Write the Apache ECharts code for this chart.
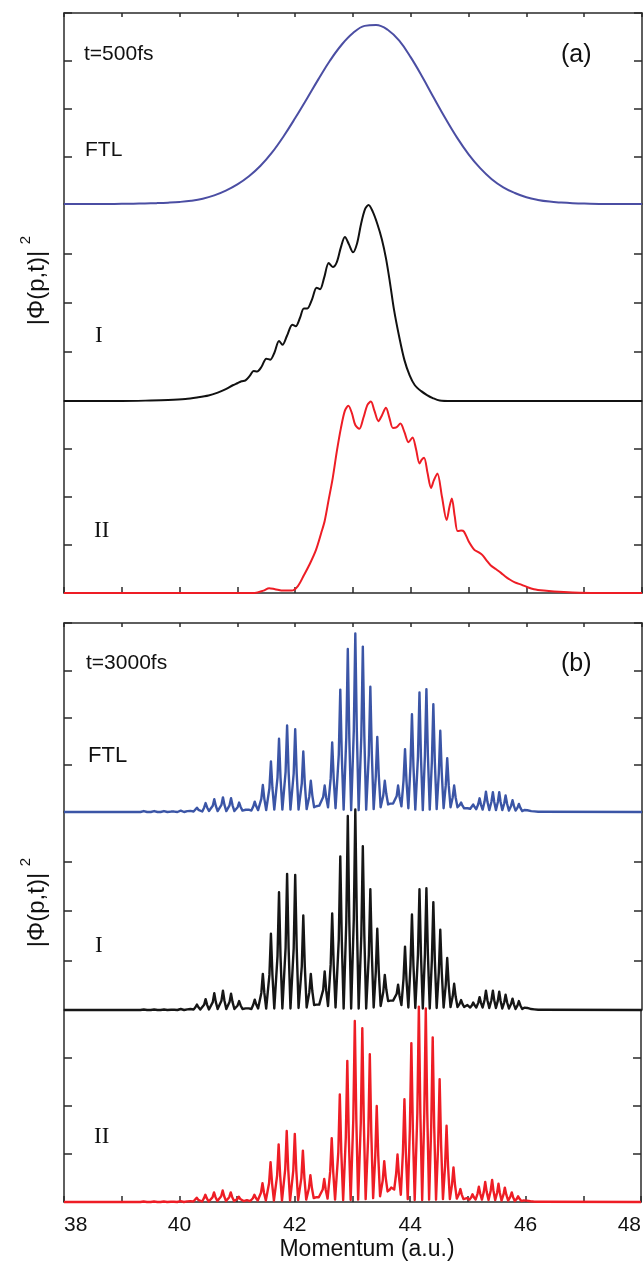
<!DOCTYPE html>
<html>
<head>
<meta charset="utf-8">
<script src="https://cdn.jsdelivr.net/npm/echarts@6/dist/echarts.min.js"></script>
<style>
html,body{margin:0;padding:0;background:#fff;}
#chart{width:644px;height:1264px;}
</style>
</head>
<body>
<div id="chart"></div>
<script>
// ---------- DATA ----------
const xTickLabels = [38, 40, 42, 44, 46, 48];

// Panel (a), t=500fs : [momentum, |Phi|^2]
const panelA_FTL = [[38,0],[38.6,0],[39,0.004],[39.2,0.007],[39.4,0.011],[39.6,0.018],[39.8,0.028],[40,0.043],[40.2,0.068],[40.4,0.11],[40.6,0.18],[40.8,0.28],[41,0.41],[41.2,0.58],[41.4,0.8],[41.6,1.08],[41.8,1.42],[42,1.8],[42.2,2.2],[42.4,2.61],[42.6,3.0],[42.8,3.33],[43,3.58],[43.2,3.73],[43.4,3.75],[43.6,3.65],[43.8,3.42],[44,3.07],[44.2,2.66],[44.4,2.22],[44.6,1.79],[44.8,1.39],[45,1.04],[45.2,0.75],[45.4,0.52],[45.6,0.35],[45.8,0.23],[46,0.14],[46.2,0.085],[46.4,0.05],[46.6,0.03],[46.8,0.016],[47,0.008],[47.4,0],[48,0]];

const panelA_I = [[38,0],[39,0],[39.5,0.01],[39.8,0.02],[40.1,0.04],[40.3,0.07],[40.5,0.11],[40.66,0.17],[40.8,0.24],[40.92,0.32],[41,0.36],[41.07,0.4],[41.14,0.42],[41.22,0.52],[41.28,0.61],[41.34,0.6],[41.42,0.7],[41.5,0.86],[41.57,0.84],[41.64,0.98],[41.72,1.22],[41.78,1.14],[41.86,1.33],[41.95,1.55],[42.01,1.52],[42.08,1.68],[42.15,1.88],[42.21,1.88],[42.29,2.06],[42.37,2.3],[42.43,2.27],[42.5,2.5],[42.58,2.8],[42.65,2.72],[42.72,2.82],[42.79,3.12],[42.86,3.33],[42.93,3.18],[43,3.02],[43.07,3.2],[43.14,3.6],[43.21,3.9],[43.27,3.98],[43.34,3.85],[43.42,3.6],[43.5,3.28],[43.57,2.9],[43.64,2.4],[43.71,1.85],[43.8,1.3],[43.89,0.83],[43.98,0.52],[44.07,0.32],[44.18,0.2],[44.28,0.12],[44.38,0.06],[44.5,0.01],[44.7,0],[48,0]];

const panelA_II = [[38,0],[41.3,0],[41.45,0.05],[41.55,0.1],[41.65,0.08],[41.8,0.05],[41.94,0.05],[42.05,0.15],[42.15,0.37],[42.25,0.6],[42.36,0.9],[42.45,1.25],[42.51,1.5],[42.58,1.95],[42.65,2.4],[42.72,2.95],[42.79,3.43],[42.86,3.8],[42.92,3.9],[42.98,3.75],[43.04,3.5],[43.11,3.42],[43.18,3.65],[43.25,3.92],[43.31,3.99],[43.37,3.8],[43.44,3.58],[43.5,3.7],[43.57,3.86],[43.63,3.65],[43.69,3.44],[43.75,3.45],[43.82,3.53],[43.89,3.35],[43.96,3.14],[44.03,3.24],[44.09,3.0],[44.15,2.7],[44.19,2.78],[44.23,2.82],[44.29,2.5],[44.35,2.19],[44.4,2.35],[44.46,2.49],[44.54,2.0],[44.62,1.52],[44.67,1.8],[44.71,1.97],[44.76,1.6],[44.81,1.29],[44.87,1.3],[44.92,1.28],[45,1.08],[45.1,0.9],[45.17,0.85],[45.24,0.79],[45.31,0.68],[45.38,0.58],[45.47,0.5],[45.56,0.42],[45.63,0.35],[45.7,0.29],[45.8,0.22],[45.92,0.17],[46.02,0.12],[46.13,0.08],[46.3,0.05],[46.48,0.03],[46.8,0.01],[47.2,0],[48,0]];

// Panel (b), t=3000fs : comb of narrow peaks
const combPositions = [39.38,39.56,39.73,39.88,40.02,40.16,40.30,40.45,40.60,40.75,40.89,41.03,41.17,41.30,41.44,41.58,41.72,41.86,42.00,42.14,42.27,42.39,42.51,42.64,42.78,42.91,43.04,43.17,43.30,43.42,43.55,43.67,43.78,43.90,44.02,44.15,44.27,44.39,44.51,44.63,44.75,44.87,44.98,45.08,45.19,45.30,45.42,45.53,45.64,45.76,45.87,45.99,46.11,46.23];

const peaksB_FTL = [0.02,0.02,0.02,0.02,0.03,0.04,0.09,0.19,0.27,0.31,0.29,0.20,0.07,0.22,0.57,1.07,1.55,1.83,1.75,1.28,0.66,0.15,0.56,1.47,2.59,3.45,3.78,3.50,2.65,1.59,0.66,0.20,0.56,1.33,2.07,2.53,2.60,2.28,1.72,1.14,0.56,0.20,0.08,0.16,0.29,0.43,0.42,0.42,0.35,0.25,0.17,0.07,0.03,0.01];
const valleysB_FTL = [0,0,0,0,0,0.01,0.01,0.02,0.02,0.02,0.02,0.03,0.03,0.04,0.04,0.05,0.05,0.05,0.05,0.06,0.10,0.12,0.10,0.08,0.05,0.04,0.04,0.05,0.06,0.10,0.16,0.16,0.12,0.08,0.05,0.04,0.05,0.06,0.08,0.10,0.10,0.08,0.07,0.06,0.05,0.04,0.04,0.04,0.03,0.03,0.02,0.01,0];

const peaksB_I = [0.01,0.01,0.01,0.01,0.02,0.03,0.11,0.22,0.34,0.39,0.33,0.18,0.05,0.21,0.73,1.54,2.38,2.75,2.73,1.91,0.73,0.12,0.78,1.95,3.10,3.92,4.05,3.31,2.44,1.64,0.71,0.20,0.51,1.28,1.93,2.44,2.46,2.18,1.62,1.05,0.53,0.20,0.10,0.15,0.26,0.39,0.39,0.37,0.31,0.23,0.18,0.08,0.03,0.01];
const valleysB_I = [0,0,0,0,0,0.01,0.01,0.01,0.02,0.02,0.02,0.02,0.02,0.03,0.03,0.03,0.03,0.03,0.04,0.05,0.10,0.10,0.08,0.05,0.03,0.03,0.03,0.03,0.05,0.08,0.18,0.18,0.10,0.05,0.04,0.03,0.03,0.04,0.05,0.06,0.06,0.06,0.05,0.05,0.05,0.04,0.04,0.03,0.03,0.02,0.02,0.01,0];

const peaksB_II = [0.01,0.01,0.01,0.01,0.02,0.03,0.09,0.15,0.20,0.24,0.20,0.11,0.04,0.15,0.39,0.83,1.20,1.48,1.42,1.07,0.56,0.12,0.48,1.33,2.24,2.94,3.77,3.62,3.08,2.00,0.85,0.30,0.99,2.14,3.31,4.07,4.03,3.43,2.56,1.59,0.72,0.27,0.08,0.16,0.32,0.42,0.46,0.38,0.30,0.20,0.12,0.05,0.02,0.01];
const valleysB_II = [0,0,0,0,0,0.01,0.01,0.01,0.02,0.02,0.02,0.02,0.02,0.03,0.03,0.03,0.03,0.03,0.04,0.05,0.08,0.08,0.07,0.05,0.04,0.04,0.05,0.06,0.08,0.12,0.22,0.26,0.15,0.06,0.04,0.04,0.05,0.05,0.06,0.06,0.07,0.06,0.05,0.05,0.05,0.04,0.04,0.03,0.03,0.02,0.02,0.01,0];

// ---------- build comb polylines from read peaks/valleys ----------
function buildComb(peaks, valleys) {
  const pts = [[38, 0]];
  const n = combPositions.length;
  for (let k = 0; k < n; k++) {
    const p = combPositions[k];
    const gl = k === 0 ? 0.12 : p - combPositions[k - 1];
    const gr = k === n - 1 ? 0.12 : combPositions[k + 1] - p;
    const hl = Math.min(0.058, gl * 0.48), hr = Math.min(0.058, gr * 0.48);
    const left = k === 0 ? 0 : valleys[k - 1];
    const right = k === n - 1 ? 0 : valleys[k];
    const h = peaks[k];
    pts.push([p - hl, left]);
    pts.push([p - hl * 0.45, left + (h - left) * 0.45]);
    pts.push([p, h]);
    pts.push([p + hr * 0.45, right + (h - right) * 0.45]);
    pts.push([p + hr, right]);
  }
  pts.push([48, 0]);
  return pts;
}

// ---------- layout ----------
const L = 64, W = 578;
const grids = [
  {left: L, width: W, top: 13, height: 191},
  {left: L, width: W, top: 204, height: 197},
  {left: L, width: W, top: 401, height: 192},
  {left: L, width: W, top: 623, height: 189},
  {left: L, width: W, top: 812, height: 198},
  {left: L, width: W, top: 1010, height: 192}
];
const frame = {color: '#2a2a2a', width: 1.5};
const FONT = '"Liberation Sans", Arial, Helvetica, sans-serif';
const SERIF = '"Liberation Serif", "Times New Roman", serif';

const xAxes = [];
const yAxes = [];
grids.forEach((g, i) => {
  const isBottom = (i === 2 || i === 5);
  xAxes.push({
    type: 'value', gridIndex: i, min: 38, max: 48, interval: 1, position: 'bottom',
    axisLine: {show: isBottom, onZero: false, lineStyle: frame},
    axisTick: {show: isBottom, inside: true, length: 6, lineStyle: frame},
    axisLabel: {
      show: i === 5, fontSize: 21, color: '#111', fontFamily: FONT, margin: 13,
      alignMinLabel: 'left', alignMaxLabel: 'right',
      formatter: v => (xTickLabels.indexOf(v) >= 0 ? String(v) : '')
    },
    splitLine: {show: false}
  });
  yAxes.push({
    type: 'value', gridIndex: i, min: 0, max: 4, interval: 1, position: 'left',
    axisLine: {show: true, lineStyle: frame},
    axisTick: {show: true, inside: true, length: 8, lineStyle: frame},
    axisLabel: {show: false}, splitLine: {show: false}
  });
  yAxes.push({
    type: 'value', gridIndex: i, min: 0, max: 4, interval: 1, position: 'right',
    axisLine: {show: true, lineStyle: frame},
    axisTick: {show: true, inside: true, length: 8, lineStyle: frame},
    axisLabel: {show: false}, splitLine: {show: false}
  });
});
[0, 3].forEach(i => {
  xAxes.push({
    type: 'value', gridIndex: i, min: 38, max: 48, interval: 1, position: 'top',
    axisLine: {show: true, onZero: false, lineStyle: frame},
    axisTick: {show: true, inside: true, length: 4, lineStyle: frame},
    axisLabel: {show: false}, splitLine: {show: false}
  });
});

function lineSeries(idx, data, color, width, smooth) {
  return {
    type: 'line', xAxisIndex: idx, yAxisIndex: idx * 2, data: data,
    showSymbol: false, symbol: 'none', smooth: smooth,
    clip: false, lineStyle: {color: color, width: width, join: 'round'}, animation: false, z: 3
  };
}

const series = [
  lineSeries(0, panelA_FTL, '#4b4ea3', 2, 0.4),
  lineSeries(1, panelA_I, '#111111', 2, 0.3),
  lineSeries(2, panelA_II, '#ee1d25', 2, 0.3),
  lineSeries(3, buildComb(peaksB_FTL, valleysB_FTL), '#3b55a6', 2.4, false),
  lineSeries(4, buildComb(peaksB_I, valleysB_I), '#161616', 2.4, false),
  lineSeries(5, buildComb(peaksB_II, valleysB_II), '#ee1d25', 2.4, false)
];

function txt(x, y, text, size, family, align, extra) {
  return Object.assign({
    type: 'text', x: x, y: y, z: 10,
    style: {text: text, fontSize: size, fontFamily: family, fill: '#111',
      align: align || 'left', verticalAlign: 'middle',
      textAlign: align || 'left', textVerticalAlign: 'middle'}
  }, extra || {});
}

const graphics = [
  txt(84, 54, 't=500fs', 21, FONT),
  txt(561, 55, '(a)', 25, FONT),
  txt(85, 150, 'FTL', 21, FONT),
  txt(95, 336, 'I', 23, SERIF),
  txt(94, 531, 'II', 23, SERIF),
  txt(86, 663, 't=3000fs', 21, FONT),
  txt(561, 664, '(b)', 25, FONT),
  txt(88, 756, 'FTL', 22, FONT),
  txt(95, 946, 'I', 23, SERIF),
  txt(94, 1137, 'II', 23, SERIF),
  txt(367, 1250, 'Momentum (a.u.)', 23, FONT, 'center'),
  txt(37, 288, '|Φ(p,t)|', 24, FONT, 'center', {rotation: Math.PI / 2}),
  txt(26, 240, '2', 15, FONT, 'center', {rotation: Math.PI / 2}),
  txt(37, 910, '|Φ(p,t)|', 24, FONT, 'center', {rotation: Math.PI / 2}),
  txt(26, 862, '2', 15, FONT, 'center', {rotation: Math.PI / 2})
];

const chart = echarts.init(document.getElementById('chart'), null, {renderer: 'canvas'});
chart.setOption({
  animation: false,
  backgroundColor: '#ffffff',
  grid: grids,
  xAxis: xAxes,
  yAxis: yAxes,
  series: series,
  graphic: graphics
});
</script>
</body>
</html>
